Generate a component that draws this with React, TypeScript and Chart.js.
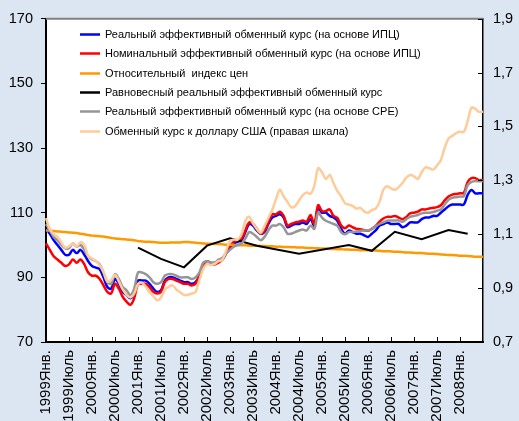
import React, { useEffect, useRef } from 'react';
import { Chart, registerables } from 'chart.js';

Chart.register(...registerables);

// Month names used for category labels
const monthNames = ['Янв.', 'Фев.', 'Март', 'Апр.', 'Май', 'Июнь', 'Июль', 'Авг.', 'Сент.', 'Окт.', 'Нояб.', 'Дек.'];
const startYear = 1999;
const monthCount = 115; // Jan 1999 .. Jul 2008
const categories: string[] = [];
for (let i = 0; i < monthCount; i++) {
  categories.push(`${startYear + Math.floor(i / 12)}${monthNames[i % 12]}`);
}
const lastLabelledMonth = '2008Янв.';

const leftTicks = { min: 70, max: 170, step: 20 };
const rightTicks = { min: 0.7, max: 1.9, step: 0.2 };

const labels = [
  'Реальный эффективный обменный курс (на основе ИПЦ)',
  'Номинальный эффективный обменный курс (на основе ИПЦ)',
  'Относительный  индекс цен',
  'Равновесный реальный эффективный обменный курс',
  'Реальный эффективный обменный курс (на основе СРЕ)',
  'Обменный курс к доллару США (правая шкала)',
];

const reerCpi = [
  105, 103.5, 101.5, 100, 98.5, 97, 97, 98.5, 97.5, 98.5, 97, 95,
  93.5, 93, 92.5, 90, 87, 86.5, 89.5, 88, 85.5, 84.5, 83.5, 85,
  89, 89, 89, 88, 86.5, 85.5, 86, 89, 90, 90, 89.5, 89,
  88.5, 88.5, 88, 88.5, 90.5, 94, 95, 94.5, 94.5, 95, 95.5, 97.5,
  99, 100.5, 101, 101.5, 104, 106.5, 106, 104.5, 103.5, 104, 106.5, 108.5,
  109, 109.5, 108.5, 105.5, 106, 106.5, 106.5, 107, 106.5, 108, 106, 111.5,
  110, 110, 109, 108.5, 107.5, 105, 103.5, 104.5, 104, 103.5, 103.5, 103,
  102.5, 103.5, 104.5, 106, 106.5, 107, 106.5, 106.5, 106.5, 105.5, 106, 107,
  107, 107, 108, 108.5, 108.5, 109, 109, 110, 111, 112, 112.5, 112.5,
  112.5, 112.5, 115.5, 117, 116, 116, 116,
];

const neerCpi = [
  100.5, 98.5, 96.5, 95.5, 94.5, 93.5, 94, 95.5, 94.5, 95.5, 94, 91.5,
  90.5, 90.5, 89.5, 87.5, 85.5, 85, 88, 86.5, 84, 82.5, 81.5, 83.5,
  88, 88, 88, 87, 85.5, 85, 85.5, 88.5, 89.5, 89.5, 89, 88.5,
  88, 88, 87.5, 88, 90.5, 93.5, 94.5, 94, 94, 94.5, 95.5, 97.5,
  99.5, 101, 101.5, 102, 104.5, 107, 106.5, 105, 103.5, 104.5, 107, 109.5,
  109.5, 110.3, 109, 106, 106.5, 107, 107.2, 107.6, 107.2, 109.3, 106.5, 112.3,
  110.5, 110.5, 111, 109, 108.4, 106, 105.2, 106, 105.5, 105, 104.9, 104.6,
  104.4, 105, 105.9, 107.2, 108.2, 108.7, 108.7, 109, 108.5, 108, 108.7, 109.8,
  110, 110.3, 111, 111, 111.3, 111.5, 111.7, 112.3, 113.8, 115, 115.6, 115.8,
  116, 116.1, 119.5, 120.7, 120.7, 120, 120.2,
];

const relativePrices = [
  104.5, 104.4, 104.3, 104.2, 104.1, 104.0, 103.9, 103.8, 103.7, 103.5, 103.3, 103.1,
  102.9, 102.8, 102.7, 102.6, 102.4, 102.2, 102.0, 101.9, 101.8, 101.7, 101.6, 101.5,
  101.2, 101.1, 101.0, 101.0, 100.9, 100.8, 100.7, 100.7, 100.7, 100.8, 100.8, 100.8,
  100.9, 100.9, 100.8, 100.7, 100.6, 100.5, 100.4, 100.4, 100.3, 100.3, 100.2, 100.1,
  100.1, 100.0, 100.0, 99.9, 99.9, 99.8, 99.8, 99.8, 99.7, 99.7, 99.6, 99.6,
  99.5, 99.5, 99.4, 99.4, 99.3, 99.3, 99.2, 99.2, 99.1, 99.1, 99.0, 99.0,
  98.9, 98.9, 98.8, 98.8, 98.7, 98.7, 98.6, 98.6, 98.5, 98.5, 98.4, 98.4,
  98.4, 98.3, 98.3, 98.2, 98.1, 98.1, 98.0, 97.9, 97.9, 97.8, 97.7, 97.7,
  97.6, 97.5, 97.5, 97.4, 97.3, 97.3, 97.2, 97.1, 97.0, 96.9, 96.9, 96.8,
  96.7, 96.7, 96.6, 96.5, 96.4, 96.4, 96.3,
];

// Equilibrium REER: estimated only at some months
const equilibriumMonths = ['2001Янв.', '2001Июль', '2002Янв.', '2002Июль', '2003Янв.', '2003Авг.', '2004Июль', '2005Авг.', '2006Фев.', '2006Авг.', '2007Март', '2007Окт.', '2008Март'];
const equilibriumValues = [99.2, 95.7, 93.1, 99.8, 102.1, 99.8, 97.3, 100.0, 98.2, 104.1, 101.8, 104.6, 103.5];

const reerCpe = [
  106.5, 104.5, 102.5, 101.5, 100, 99, 99, 100.5, 99.5, 100, 98.5, 96.5,
  95.5, 95, 94, 91.5, 88.5, 88, 91, 89.5, 87, 86, 84.5, 86.5,
  91.5, 91.5, 91, 90, 88.5, 88, 88.5, 90.5, 91, 91, 90.5, 90,
  90, 90, 89.5, 90, 91.5, 94.5, 95, 94.5, 94.5, 95.5, 96, 97.5,
  98.5, 99.5, 100, 100.5, 102, 104, 103.5, 102.5, 101.5, 102.5, 104.5, 106,
  106, 106.5, 105.5, 103.5, 103.5, 104, 104.5, 104.8, 104.5, 106, 105, 110,
  108.5, 107.5, 107, 106.5, 106, 104, 103.3, 104, 104, 104.2, 104.4, 104.5,
  104.5, 105, 105.8, 106.5, 107, 107.5, 107.6, 107.6, 107.6, 107.2, 108, 108.7,
  109, 109.3, 109.8, 110, 110, 110.2, 110.6, 111, 112.5, 114, 114.6, 114.8,
  115, 115.1, 118.5, 119.5, 119.8, 119.7, 119.8,
];

const usdRate = [
  1.16, 1.12, 1.10, 1.09, 1.07, 1.05, 1.055, 1.065, 1.055, 1.07, 1.06, 1.02,
  1.01, 1.00, 0.985, 0.96, 0.925, 0.93, 0.95, 0.925, 0.895, 0.875, 0.865, 0.88,
  0.915, 0.92, 0.905, 0.885, 0.87, 0.855, 0.865, 0.895, 0.905, 0.91, 0.895, 0.885,
  0.875, 0.875, 0.88, 0.885, 0.93, 0.97, 0.99, 0.985, 0.99, 1.00, 1.005, 1.04,
  1.075, 1.08, 1.08, 1.10, 1.15, 1.165, 1.14, 1.12, 1.105, 1.13, 1.16, 1.19,
  1.23, 1.265, 1.24, 1.22, 1.20, 1.205, 1.225, 1.245, 1.255, 1.25, 1.28, 1.345,
  1.33, 1.305, 1.32, 1.29, 1.26, 1.24, 1.215, 1.21, 1.205, 1.195, 1.198, 1.185,
  1.18, 1.19, 1.195, 1.22, 1.265, 1.278, 1.27, 1.265, 1.275, 1.29, 1.31, 1.32,
  1.315, 1.305, 1.33, 1.348, 1.345, 1.34, 1.355, 1.375, 1.42, 1.455, 1.465, 1.475,
  1.48, 1.48, 1.52, 1.57, 1.565, 1.554, 1.555,
];

const colors = ['#0000FF', '#FF0000', '#FF9900', '#000000', '#969696', '#FFCC99'];
const FONT = '"Liberation Sans", Arial, sans-serif';
const OUTER_BG = '#DCE6F2';

const bgPlugin = {
  id: 'bgPlugin',
  beforeDraw(chart: any) {
    const { ctx, chartArea } = chart;
    ctx.save();
    ctx.fillStyle = OUTER_BG;
    ctx.fillRect(0, 0, chart.width, chart.height);
    ctx.fillStyle = '#FFFFFF';
    ctx.fillRect(chartArea.left, chartArea.top, chartArea.right - chartArea.left, chartArea.bottom - chartArea.top);
    ctx.restore();
  },
};

const framePlugin = {
  id: 'framePlugin',
  afterDraw(chart: any) {
    const { ctx, chartArea } = chart;
    const { left, right, top, bottom } = chartArea;
    ctx.save();
    // top border
    ctx.strokeStyle = '#808080';
    ctx.lineWidth = 2;
    ctx.beginPath();
    ctx.moveTo(left, top);
    ctx.lineTo(right, top);
    ctx.stroke();
    // inward ticks on x axis
    ctx.strokeStyle = '#000';
    ctx.lineWidth = 1;
    const xs = chart.scales.x;
    xs.ticks.forEach((t: any) => {
      const px = Math.round(xs.getPixelForValue(t.value)) + 0.5;
      if (px <= left + 2) return;
      ctx.beginPath();
      ctx.moveTo(px, bottom);
      ctx.lineTo(px, bottom - 5);
      ctx.stroke();
    });
    // inward ticks on right axis
    const ys = chart.scales.y1;
    ys.ticks.forEach((t: any) => {
      const py = Math.round(ys.getPixelForValue(t.value)) + 0.5;
      ctx.beginPath();
      ctx.moveTo(right, py);
      ctx.lineTo(right - 5, py);
      ctx.stroke();
    });
    ctx.restore();
  },
};

const legendPlugin = {
  id: 'insideLegend',
  afterDatasetsDraw(chart: any) {
    const { ctx, chartArea } = chart;
    ctx.save();
    ctx.font = `11px ${FONT}`;
    ctx.textBaseline = 'middle';
    ctx.textAlign = 'left';
    chart.data.datasets.forEach((ds: any, i: number) => {
      const y = Math.round(chartArea.top + 15 + i * 19.4) + 0.5;
      const x0 = chartArea.left + 34;
      ctx.strokeStyle = ds.borderColor;
      ctx.lineWidth = 2.5;
      ctx.beginPath();
      ctx.moveTo(x0, y);
      ctx.lineTo(x0 + 20, y);
      ctx.stroke();
      ctx.fillStyle = '#000';
      ctx.fillText(ds.label, x0 + 25, y);
    });
    ctx.restore();
  },
};

export default function App() {
  const canvasRef = useRef<HTMLCanvasElement | null>(null);

  useEffect(() => {
    document.body.style.margin = '0';
    const canvas = canvasRef.current;
    if (!canvas) return;
    const lastTickIndex = categories.indexOf(lastLabelledMonth);
    const chart = new Chart(canvas, {
      type: 'line',
      data: {
        labels: categories,
        datasets: [
          { label: labels[0], data: reerCpi, borderColor: colors[0], borderWidth: 2.5, yAxisID: 'y', order: 5 },
          { label: labels[1], data: neerCpi, borderColor: colors[1], borderWidth: 2.5, yAxisID: 'y', order: 4 },
          { label: labels[2], data: relativePrices, borderColor: colors[2], borderWidth: 2.5, yAxisID: 'y', order: 3 },
          {
            label: labels[3],
            data: equilibriumMonths.map((m, k) => ({ x: m, y: equilibriumValues[k] })) as any,
            borderColor: colors[3], borderWidth: 2, yAxisID: 'y', order: 2, tension: 0,
          },
          { label: labels[4], data: reerCpe, borderColor: colors[4], borderWidth: 2.5, yAxisID: 'y', order: 1 },
          { label: labels[5], data: usdRate, borderColor: colors[5], borderWidth: 2.5, yAxisID: 'y1', order: 0 },
        ],
      },
      options: {
        responsive: false,
        animation: false,
        events: [],
        layout: { padding: { top: 16, left: 0, right: 0, bottom: 0 } },
        elements: {
          point: { radius: 0 },
          line: { tension: 0.35, fill: false },
        },
        plugins: {
          legend: { display: false },
          tooltip: { enabled: false },
        },
        scales: {
          x: {
            type: 'category',
            offset: false,
            grid: { display: true, drawOnChartArea: false, drawTicks: false },
            border: { color: '#000', width: 2 },
            afterBuildTicks: (scale: any) => {
              scale.ticks = scale.ticks.filter((t: any) => t.value % 6 === 0 && t.value <= lastTickIndex);
            },
            afterFit: (scale: any) => { scale.height = 79; },
            ticks: {
              autoSkip: false,
              minRotation: 90,
              maxRotation: 90,
              padding: 8,
              color: '#000',
              font: { family: FONT, size: 15 },
            },
          },
          y: {
            position: 'left',
            min: leftTicks.min,
            max: leftTicks.max,
            grid: { display: true, drawOnChartArea: false, drawTicks: true, tickLength: 5, color: '#000' },
            border: { color: '#000', width: 2 },
            afterFit: (scale: any) => { scale.width = 46; },
            ticks: {
              stepSize: leftTicks.step,
              padding: 8,
              color: '#000',
              font: { family: FONT, size: 14.5 },
            },
          },
          y1: {
            position: 'right',
            min: rightTicks.min,
            max: rightTicks.max,
            grid: { display: true, drawOnChartArea: false, drawTicks: false },
            border: { color: '#000', width: 1.5 },
            afterFit: (scale: any) => { scale.width = 36; },
            ticks: {
              stepSize: rightTicks.step,
              padding: 10,
              color: '#000',
              font: { family: FONT, size: 14.5 },
              callback: (v: any) => Number(v).toFixed(1).replace('.', ','),
            },
          },
        },
      },
      plugins: [bgPlugin, framePlugin, legendPlugin],
    });
    return () => chart.destroy();
  }, []);

  return (
    <div style={{ width: 519, height: 421 }}>
      <canvas ref={canvasRef} width={519} height={421} style={{ display: 'block', width: 519, height: 421 }} />
    </div>
  );
}
